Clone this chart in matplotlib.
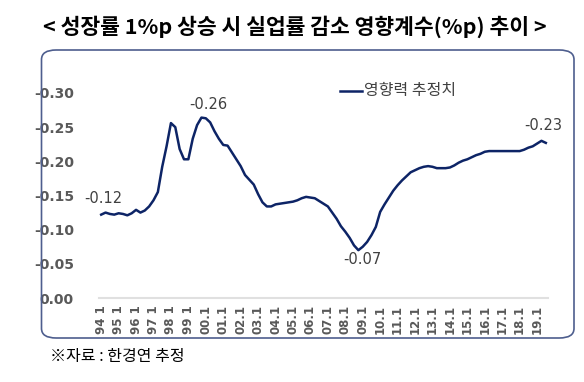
import numpy as np
import matplotlib
matplotlib.use('Agg')
from matplotlib import pyplot as plt
from matplotlib.patches import FancyBboxPatch
from matplotlib.lines import Line2D

matplotlib.rcParams['font.family'] = ['DejaVu Sans']

# 분기별 영향력 추정치 (94.1 ~ 19.3)
years = ['94 1', '95 1', '96 1', '97 1', '98 1', '99 1', '00.1', '01.1', '02.1', '03.1',
         '04.1', '05.1', '06.1', '07.1', '08.1', '09.1', '10.1', '11.1', '12.1', '13.1',
         '14.1', '15.1', '16.1', '17.1', '18.1', '19.1']
values = [-0.122, -0.125, -0.123, -0.122,
          -0.124, -0.123, -0.121, -0.124,
          -0.129, -0.125, -0.128, -0.134,
          -0.143, -0.155, -0.192, -0.222,
          -0.256, -0.250, -0.218, -0.203,
          -0.203, -0.233, -0.253, -0.264,
          -0.263, -0.257, -0.244, -0.233,
          -0.224, -0.223, -0.213, -0.203,
          -0.193, -0.180, -0.173, -0.166,
          -0.152, -0.140, -0.134, -0.134,
          -0.137, -0.138, -0.139, -0.140,
          -0.141, -0.143, -0.146, -0.148,
          -0.147, -0.146, -0.142, -0.138,
          -0.134, -0.125, -0.116, -0.105,
          -0.097, -0.088, -0.077, -0.070,
          -0.075, -0.082, -0.092, -0.104,
          -0.126, -0.137, -0.147, -0.157,
          -0.165, -0.172, -0.178, -0.184,
          -0.187, -0.190, -0.192, -0.193,
          -0.192, -0.190, -0.190, -0.190,
          -0.191, -0.194, -0.198, -0.201,
          -0.203, -0.206, -0.209, -0.211,
          -0.214, -0.215, -0.215, -0.215,
          -0.215, -0.215, -0.215, -0.215,
          -0.215, -0.217, -0.220, -0.222,
          -0.226, -0.230, -0.227]
yticks = [0.00, -0.05, -0.10, -0.15, -0.20, -0.25, -0.30]
# 라벨 붙일 점: (인덱스, 픽셀 오프셋)
labels = [(0, 2, 16), (23, 7, 13), (59, 4, -9), (101, 2, 15)]

navy = '#0d2466'
gray = '#595959'
kfont = 'Noto Sans CJK KR'

fig = plt.figure(figsize=(5.84, 3.82), dpi=100)
W, H = 584, 382

# 바깥 둥근 테두리
box = FancyBboxPatch((41.5 / W, 1 - 338 / H), (574 - 41.5) / W, (338 - 50) / H,
                     boxstyle='round,pad=0,rounding_size=0.025', transform=fig.transFigure,
                     facecolor='none', edgecolor='#4e5e8e', linewidth=1.2)
fig.patches.append(box)

ax = fig.add_axes([99 / W, 1 - 298 / H, (548 - 99) / W, (298 - 93) / H])
x = np.arange(len(values))
ax.plot(x, values, color=navy, linewidth=1.8)

ax.set_xlim(-0.5, len(values) - 0.5)
ax.set_ylim(0.0, -0.30)
ax.set_yticks(yticks)
ax.set_yticklabels(['%.2f' % v for v in yticks], fontsize=10, fontweight='bold', color=gray)
ax.set_xticks(np.arange(0, len(values), 4))
ax.set_xticklabels(years, rotation=90, fontsize=8.5, fontweight='bold', color=gray)
ax.tick_params(length=0)
ax.tick_params(axis='y', pad=18)
ax.tick_params(axis='x', pad=5)
for s in ['top', 'right', 'left']:
    ax.spines[s].set_visible(False)
ax.spines['bottom'].set_color('#e0e0e0')
ax.spines['bottom'].set_linewidth(1.5)

for i, dx, dy in labels:
    ax.annotate('%.2f' % values[i], xy=(i, values[i]), xytext=(dx, dy),
                textcoords='offset pixels', ha='center', va='center',
                fontsize=10.5, color='#404040')

# 범례
fig.add_artist(Line2D([340 / W, 362 / W], [1 - 90.5 / H, 1 - 90.5 / H],
                      color=navy, linewidth=1.8, transform=fig.transFigure))
fig.text(364 / W, 1 - 90 / H, '영향력 추정치', family=kfont, fontsize=11.5,
         color='#404040', ha='left', va='center')

fig.text(295 / W, 1 - 27 / H, '< 성장률 1%p 상승 시 실업률 감소 영향계수(%p) 추이 >',
         family=kfont, fontsize=15.5, fontweight='bold', ha='center', va='center')
fig.text(50 / W, 1 - 356 / H, '※자료 : 한경연 추정', family=kfont, fontsize=11.5,
         ha='left', va='center')

plt.savefig('out.png', dpi=100)
